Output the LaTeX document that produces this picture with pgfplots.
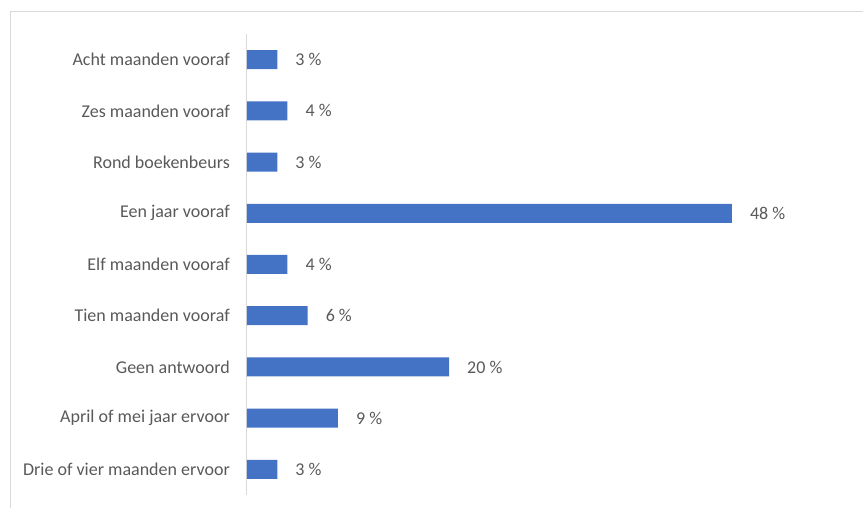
\documentclass[border=0pt]{standalone}
\usepackage{pgfplots}
\pgfplotsset{compat=1.18}
\usepackage{fontspec}
\setmainfont{Carlito}
\definecolor{barblue}{HTML}{4472C4}
\definecolor{txtgray}{HTML}{595959}
\definecolor{linegray}{HTML}{D9D9D9}
\begin{document}
\begin{tikzpicture}
\path[use as bounding box] (0,0) rectangle (863pt,508pt);
\draw[linegray, line width=1pt] (10pt,0) -- (10pt,496pt) -- (863pt,496pt);
\begin{axis}[
  at={(247pt,13pt)}, anchor=south west,
  scale only axis, width=606pt, height=461pt,
  xbar, bar width=19pt,
  xmin=0, xmax=60, ymin=-0.5, ymax=8.5, y dir=reverse,
  axis x line=none,
  axis y line*=left,
  y axis line style={linegray, line width=1pt, -},
  ytick={0,...,8},
  yticklabels={Acht maanden vooraf, Zes maanden vooraf, Rond boekenbeurs, Een jaar vooraf, Elf maanden vooraf, Tien maanden vooraf, Geen antwoord, April of mei jaar ervoor, Drie of vier maanden ervoor},
  major tick length=0pt,
  ytick style={draw=none},
  yticklabel style={font=\fontsize{18}{20}\selectfont, text=txtgray, inner sep=0pt, xshift=-17pt},
  /pgf/number format/assume math mode=true,
  nodes near coords={\pgfmathprintnumber{\pgfplotspointmeta}~\%},
  nodes near coords style={font=\fontsize{18}{20}\selectfont, text=txtgray, inner sep=0pt, xshift=18pt, anchor=west},
  clip=false,
]
\addplot[fill=barblue, draw=none] coordinates {(3,0) (4,1) (3,2) (48,3) (4,4) (6,5) (20,6) (9,7) (3,8)};
\end{axis}
\end{tikzpicture}
\end{document}
